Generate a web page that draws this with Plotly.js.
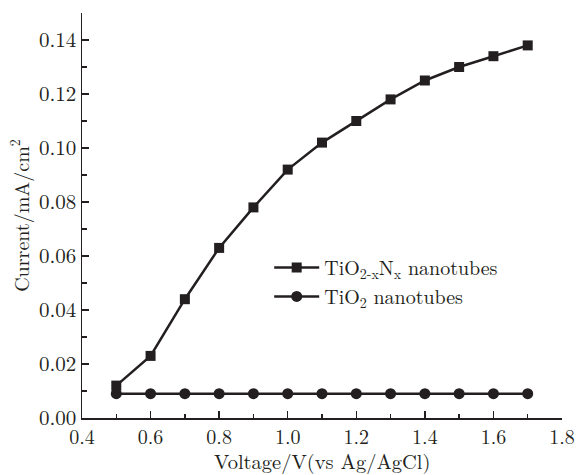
<!DOCTYPE html>
<html>
<head>
<meta charset="utf-8">
<script src="https://cdn.plot.ly/plotly-3.0.1.min.js"></script>
<style>html,body{margin:0;padding:0;background:#fff;}#chart{width:576px;height:475px;}</style>
</head>
<body>
<div id="chart"></div>
<script>
const voltage = [0.5, 0.6, 0.7, 0.8, 0.9, 1.0, 1.1, 1.2, 1.3, 1.4, 1.5, 1.6, 1.7];
const currentTiO2xNx = [0.012, 0.023, 0.044, 0.063, 0.078, 0.092, 0.102, 0.110, 0.118, 0.125, 0.130, 0.134, 0.138];
const currentTiO2 = [0.009, 0.009, 0.009, 0.009, 0.009, 0.009, 0.009, 0.009, 0.009, 0.009, 0.009, 0.009, 0.009];
const seriesNames = ["TiO<sub>2-x</sub>N<sub>x</sub> nanotubes", "TiO<sub>2</sub> nanotubes"];
const xTitle = "Voltage/V(vs Ag/AgCl)";
const yTitle = "Current/mA/cm<sup>2</sup>";

const ink = "#231f20";
const fontFam = "'Latin Modern Roman', 'CMU Serif', 'DejaVu Serif', serif";

const traces = [
  {x: voltage, y: currentTiO2xNx, name: seriesNames[0], mode: "lines+markers",
   line: {color: ink, width: 2.5}, marker: {symbol: "square", size: 10, color: ink}},
  {x: voltage, y: currentTiO2, name: seriesNames[1], mode: "lines+markers",
   line: {color: ink, width: 2.5}, marker: {symbol: "circle", size: 11, color: ink}}
];

const axisCommon = {
  showgrid: false, zeroline: false, showline: true, linecolor: ink, linewidth: 1.5,
  ticks: "inside", ticklen: 7, tickwidth: 1.3, tickcolor: ink,
  tickfont: {family: fontFam, size: 21, color: ink}
};

const layout = {
  width: 576, height: 475,
  margin: {l: 82, r: 14, t: 13, b: 57},
  paper_bgcolor: "#fff", plot_bgcolor: "#fff",
  font: {family: fontFam, color: ink, size: 20},
  showlegend: true,
  legend: {x: 0.39, y: 0.336, xanchor: "left", yanchor: "middle", bgcolor: "rgba(0,0,0,0)",
           font: {family: fontFam, size: 20, color: ink}, itemwidth: 45, tracegroupgap: 0},
  xaxis: Object.assign({}, axisCommon, {
    range: [0.4, 1.8], dtick: 0.2, tickformat: ".1f",
    tickfont: {family: fontFam, size: 20, color: ink},
    minor: {dtick: 0.1, ticks: "inside", ticklen: 4, tickcolor: ink, tickwidth: 1.3}
  }),
  yaxis: Object.assign({}, axisCommon, {
    range: [0, 0.15], dtick: 0.02, tickformat: ".2f",
    minor: {dtick: 0.01, ticks: "inside", ticklen: 5, tickcolor: ink, tickwidth: 1.3},
    title: {text: yTitle, font: {family: fontFam, size: 20, color: ink}, standoff: 4}
  }),
  annotations: [{
    text: xTitle, xref: "paper", yref: "paper", x: 0.5, y: 0,
    xanchor: "center", yanchor: "top", yshift: -27, showarrow: false,
    font: {family: fontFam, size: 20.5, color: ink}, borderpad: 0
  }]
};

Plotly.newPlot("chart", traces, layout, {staticPlot: true});
</script>
</body>
</html>
